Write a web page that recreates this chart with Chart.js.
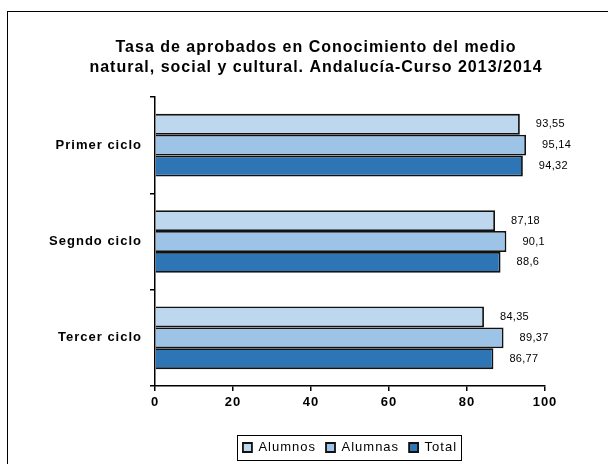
<!DOCTYPE html>
<html>
<head>
    <meta charset="utf-8">
    <title>Tasa de aprobados</title>
    <script src="https://cdn.jsdelivr.net/npm/chart.js"></script>
    <style>
        html, body { margin: 0; padding: 0; background: #fff; }
        #wrap { width: 608px; height: 464px; }
    </style>
</head>
<body>
    <div id="wrap"><canvas id="chart" width="608" height="464"></canvas></div>

    <script>
        const titleLines = ['Tasa de aprobados en Conocimiento del medio', 'natural, social y cultural. Andalucía-Curso 2013/2014'];
        const ciclos = ['Primer ciclo', 'Segndo ciclo', 'Tercer ciclo'];
        const seriesNames = ['Alumnos', 'Alumnas', 'Total'];
        const alumnos = [93.55, 87.18, 84.35];
        const alumnas = [95.14, 90.1, 89.37];
        const total = [94.32, 88.6, 86.77];
        const colors = ['#BDD7EE', '#9DC3E6', '#2E75B6'];
        const font = '"Liberation Sans", Arial, sans-serif';

        // marco, titulo y etiquetas de valor
        const extras = {
            id: 'extras',
            beforeLayout(chart) {
                chart.ctx.letterSpacing = '1px';
            },
            beforeDraw(chart) {
                const ctx = chart.ctx;
                ctx.letterSpacing = '1px';
                ctx.save();
                ctx.fillStyle = '#fff';
                ctx.fillRect(0, 0, chart.width, chart.height);
                ctx.strokeStyle = '#000';
                ctx.lineWidth = 1;
                ctx.strokeRect(7.5, 11.5, 700, 600);
                ctx.fillStyle = '#000';
                ctx.font = 'bold 16px ' + font;
                ctx.textAlign = 'center';
                ctx.textBaseline = 'middle';
                titleLines.forEach((t, i) => ctx.fillText(t, 316, 48 + i * 20));
                ctx.restore();
            },
            afterDatasetsDraw(chart) {
                const ctx = chart.ctx;
                ctx.save();
                ctx.letterSpacing = '0.3px';
                ctx.fillStyle = '#000';
                ctx.font = '11px ' + font;
                ctx.textAlign = 'left';
                ctx.textBaseline = 'middle';
                chart.data.datasets.forEach((ds, i) => {
                    chart.getDatasetMeta(i).data.forEach((bar, j) => {
                        ctx.fillText(String(ds.data[j]).replace('.', ','), bar.x + 16, bar.y);
                    });
                });
                ctx.restore();
            },
            afterDraw(chart) {
                const boxes = chart.legend.legendHitBoxes;
                if (!boxes || !boxes.length) return;
                const first = boxes[0], last = boxes[boxes.length - 1];
                const ctx = chart.ctx;
                ctx.save();
                ctx.strokeStyle = '#000';
                ctx.lineWidth = 1;
                ctx.strokeRect(Math.round(first.left - 6) + 0.5, Math.round(first.top - 6) + 0.5,
                    Math.round(last.left + last.width - first.left + 10), Math.round(first.height + 12));
                ctx.restore();
            }
        };

        new Chart(document.getElementById('chart').getContext('2d'), {
            type: 'bar',
            data: {
                labels: ciclos,
                datasets: [
                    { label: seriesNames[0], data: alumnos, backgroundColor: colors[0] },
                    { label: seriesNames[1], data: alumnas, backgroundColor: colors[1] },
                    { label: seriesNames[2], data: total, backgroundColor: colors[2] }
                ].map(d => Object.assign(d, { borderColor: '#111', borderWidth: 1.8, categoryPercentage: 0.65, barPercentage: 1 }))
            },
            options: {
                indexAxis: 'y',
                responsive: false,
                animation: false,
                layout: { padding: { left: 7, right: 63, top: 97, bottom: 0 } },
                plugins: {
                    title: { display: false },
                    tooltip: { enabled: false },
                    legend: {
                        position: 'bottom',
                        fullSize: false,
                        labels: {
                            boxWidth: 9, boxHeight: 9, padding: 10,
                            color: '#000',
                            font: { family: font, size: 13 }
                        }
                    }
                },
                scales: {
                    x: {
                        min: 0, max: 100,
                        ticks: { stepSize: 20, color: '#000', padding: 4, font: { family: font, size: 13, weight: 'bold' } },
                        grid: { drawOnChartArea: false, tickLength: 5, color: '#000', lineWidth: 1.5 },
                        border: { display: true, color: '#000', width: 1.5 },
                        afterFit(scale) { scale.height = 45; }
                    },
                    y: {
                        ticks: { color: '#000', padding: 8, font: { family: font, size: 13, weight: 'bold' } },
                        grid: { drawOnChartArea: false, tickLength: 5, color: '#000', lineWidth: 1.5, offset: true },
                        border: { display: true, color: '#000', width: 1.5 },
                        afterFit(scale) { scale.width = 148; }
                    }
                }
            },
            plugins: [extras]
        });
    </script>
</body>
</html>
